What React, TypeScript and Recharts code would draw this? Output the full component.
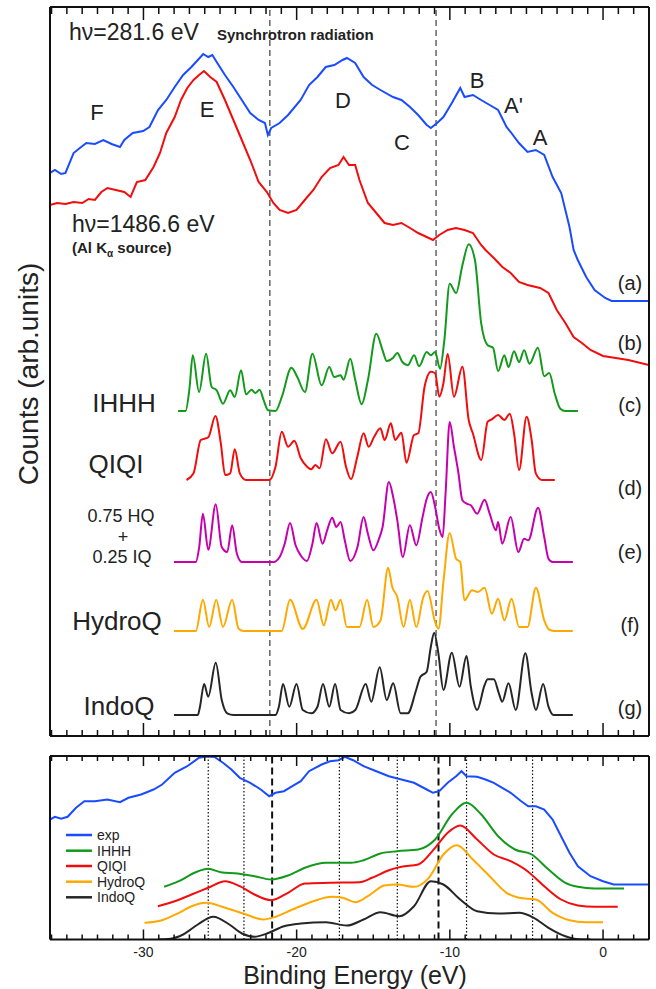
import { LineChart, Line, XAxis, YAxis, ReferenceLine } from 'recharts';

type Pt = [number, number];

// binding energy axis (eV)
const E_DOMAIN: [number, number] = [-36.1, 3.0];
const MINOR_TICKS = Array.from({ length: 40 }, (_, i) => -36 + i);
const MAJOR_TICKS = [-30, -20, -10, 0];

// (a) hv = 281.6 eV, synchrotron
const expSynchrotron: Pt[] = [
  [-36.1, 563], [-35.78, 566], [-35.37, 562], [-35.09, 563], [-34.56, 583], [-34.15, 588], [-33.73, 593],
  [-33.17, 592], [-32.62, 596], [-32.08, 592], [-31.53, 589], [-31.25, 596], [-30.7, 603], [-30.02, 605],
  [-29.61, 609], [-29.05, 626], [-28.51, 636], [-27.96, 649], [-27.41, 661], [-26.87, 669], [-26.45, 676],
  [-26.1, 682], [-25.77, 679], [-25.5, 681], [-25.22, 674], [-24.68, 661], [-24.13, 649], [-23.58, 636],
  [-23.03, 623], [-22.48, 616], [-22.07, 613], [-21.88, 601], [-21.66, 608], [-21.11, 613], [-20.56, 621],
  [-19.74, 636], [-19.19, 651], [-18.64, 659], [-18.1, 669], [-17.54, 671], [-17.0, 676], [-16.72, 678],
  [-16.18, 673], [-15.63, 659], [-15.07, 651], [-14.53, 646], [-13.71, 639], [-13.16, 636], [-12.6, 629],
  [-12.07, 621], [-11.51, 611], [-11.24, 608], [-10.83, 613], [-10.42, 619], [-9.87, 633], [-9.32, 648],
  [-9.04, 639], [-8.49, 641], [-7.96, 636], [-7.4, 631], [-6.85, 626], [-6.3, 609], [-6.03, 604],
  [-5.49, 593], [-4.93, 584], [-4.39, 586], [-3.84, 581], [-3.29, 559], [-2.73, 543], [-2.19, 509],
  [-1.92, 486], [-1.65, 476], [-1.1, 459], [-0.55, 446], [0.14, 438], [0.56, 435], [3.0, 435],
];

// (b) hv = 1486.6 eV, Al K-alpha
const expAlKa: Pt[] = [
  [-36.1, 531], [-35.64, 533], [-35.09, 532], [-34.56, 534], [-33.99, 533], [-33.58, 537], [-33.17, 536],
  [-32.75, 544], [-32.35, 548], [-31.81, 546], [-31.25, 544], [-30.84, 539], [-30.43, 554], [-29.88, 556],
  [-29.34, 569], [-28.92, 583], [-28.51, 603], [-27.96, 619], [-27.55, 636], [-27.14, 648], [-26.73, 656],
  [-26.37, 661], [-26.05, 665], [-25.64, 659], [-25.22, 654], [-24.68, 636], [-24.13, 616], [-23.58, 596],
  [-23.03, 576], [-22.48, 554], [-21.94, 544], [-21.52, 533], [-21.11, 526], [-20.56, 523], [-20.01, 526],
  [-19.47, 536], [-18.91, 546], [-18.37, 559], [-17.82, 568], [-17.27, 571], [-16.94, 579], [-16.58, 571],
  [-16.18, 571], [-15.9, 556], [-15.35, 533], [-14.8, 523], [-14.26, 513], [-13.71, 511], [-13.16, 513],
  [-12.6, 508], [-12.07, 503], [-11.51, 499], [-11.1, 496], [-10.69, 501], [-10.14, 506], [-9.6, 508],
  [-9.04, 506], [-8.49, 503], [-7.96, 491], [-7.67, 486], [-7.13, 478], [-6.57, 469], [-6.03, 463],
  [-5.49, 454], [-4.93, 451], [-4.11, 448], [-3.56, 443], [-3.02, 426], [-2.46, 413], [-1.92, 399],
  [-1.38, 393], [-0.82, 386], [0.0, 380], [0.83, 378], [1.65, 376], [3.0, 371],
];

// (c)-(g) calculated DOS, heights above each curve's own baseline
const dosIHHH: Pt[] = [
  [-27.74, 0], [-27.25, 0], [-27.0, 22], [-26.78, 55.7], [-26.37, 19], [-25.91, 57.3], [-25.55, 24],
  [-25.22, 20.7], [-24.81, 7.3], [-24.34, 20.7], [-24.04, 14], [-23.63, 40.7], [-23.3, 16.7], [-22.94, 21.3],
  [-22.7, 18], [-22.42, 21.3], [-22.15, 10.7], [-21.87, 0.7], [-21.38, 0], [-20.97, 14], [-20.34, 43.3],
  [-19.96, 34], [-19.46, 19], [-18.97, 57.3], [-18.37, 25.7], [-17.87, 44], [-17.55, 34], [-17.13, 35.7],
  [-16.94, 31.3], [-16.5, 52.3], [-16.17, 30.7], [-15.76, 6.7], [-15.35, 30.7], [-14.8, 77.3], [-14.39, 60.7],
  [-14.12, 50], [-13.7, 53.3], [-13.43, 58], [-13.1, 49], [-12.75, 45.7], [-12.33, 55.7], [-12.01, 44.7],
  [-11.51, 59], [-11.24, 55.7], [-10.96, 59], [-10.64, 42.3], [-10.36, 70.7], [-10.01, 127.3], [-9.59, 118],
  [-9.18, 145.7], [-8.77, 166.7], [-8.36, 150.7], [-7.95, 87.3], [-7.53, 65.7], [-7.18, 63.3], [-6.85, 40],
  [-6.44, 55.7], [-6.17, 44], [-5.81, 59.7], [-5.48, 49], [-5.15, 60.7], [-4.8, 47.3], [-4.25, 63.3],
  [-3.84, 34.7], [-3.51, 38], [-3.15, 17.3], [-2.79, 2.3], [-2.46, 0], [-1.64, 0],
];

const dosQIQI: Pt[] = [
  [-27.19, 0], [-26.73, 6.7], [-26.26, 40], [-25.77, 42.7], [-25.3, 64], [-24.95, 36.7], [-24.67, 5],
  [-24.34, 6.7], [-24.04, 30.7], [-23.71, 6.7], [-23.3, 0], [-21.79, 0], [-21.38, 13.3], [-20.97, 48.3],
  [-20.56, 33.3], [-20.15, 39.3], [-19.73, 21.7], [-19.32, 13.3], [-19.05, 10.7], [-18.78, 15], [-18.5, 11.7],
  [-18.09, 40.7], [-17.68, 26.7], [-17.13, 38.3], [-16.78, 13.3], [-16.45, 0.7], [-16.04, 23.3], [-15.63, 46.7],
  [-15.3, 33.3], [-14.94, 43.3], [-14.53, 51.7], [-14.26, 40], [-13.85, 56.7], [-13.57, 40], [-13.16, 47.3],
  [-12.83, 17.3], [-12.34, 45], [-12.06, 46.7], [-11.65, 93.3], [-11.24, 108.3], [-10.96, 106.7], [-10.69, 83.3],
  [-10.42, 96.7], [-10.14, 126], [-9.73, 83.3], [-9.18, 113.3], [-8.77, 60], [-8.5, 46.7], [-7.95, 20],
  [-7.53, 58.3], [-7.26, 60.7], [-6.85, 65], [-6.44, 60], [-6.08, 66.3], [-5.81, 46.7], [-5.48, 10],
  [-4.99, 63.3], [-4.66, 40], [-4.39, 6.7], [-3.98, 0], [-3.15, 0],
];

const dosMix: Pt[] = [
  [-28.01, 0], [-26.58, 0], [-26.36, 15], [-26.12, 48.3], [-25.77, 12.3], [-25.28, 57.7], [-24.89, 15],
  [-24.53, 10], [-24.21, 36.7], [-23.9, 8.3], [-23.57, 0], [-21.52, 0], [-21.11, 5], [-20.78, 18.3],
  [-20.43, 39], [-20.07, 16.7], [-19.74, 6.7], [-19.33, 1], [-18.97, 18.3], [-18.7, 39], [-18.31, 18.3],
  [-18.01, 31.7], [-17.68, 44.3], [-17.41, 35], [-17.13, 40], [-16.86, 21.7], [-16.5, 1], [-16.03, 15],
  [-15.63, 45], [-15.35, 28.3], [-14.99, 11.7], [-14.66, 21.7], [-14.39, 35], [-13.98, 80], [-13.7, 65],
  [-13.43, 41.7], [-13.07, 5], [-12.61, 36.7], [-12.19, 16.7], [-11.78, 45], [-11.51, 63.3], [-11.24, 70],
  [-10.96, 55], [-10.69, 33.3], [-10.47, 25], [-10.28, 68.3], [-10.01, 140], [-9.73, 115], [-9.45, 90],
  [-9.18, 61.7], [-8.9, 58.3], [-8.63, 56.7], [-8.22, 48.3], [-7.73, 62.3], [-7.4, 48.3], [-6.99, 31.7],
  [-6.85, 40], [-6.58, 18.3], [-6.03, 45], [-5.53, 10], [-5.15, 23.3], [-4.88, 21.7], [-4.24, 54.3],
  [-3.84, 25], [-3.56, 3.3], [-3.29, 0], [-1.97, 0],
];

const dosHydroQ: Pt[] = [
  [-28.01, 0], [-26.58, 0], [-26.12, 31.3], [-25.71, 4], [-25.25, 31.3], [-24.81, 4], [-24.21, 31.3],
  [-23.79, 2.3], [-23.44, 0], [-20.98, 0], [-20.43, 31.3], [-19.6, 2], [-18.7, 31.3], [-18.23, 5.7],
  [-17.76, 31.3], [-17.46, 20.7], [-17.13, 31.3], [-16.72, 4], [-15.9, 4], [-15.4, 31.3], [-14.99, 4],
  [-14.52, 10.7], [-14.03, 63.3], [-13.76, 44], [-13.43, 34], [-13.02, 4], [-12.61, 31.3], [-12.19, 4],
  [-11.73, 34], [-11.46, 40], [-10.96, 9], [-10.74, 2.3], [-10.41, 50.7], [-10.01, 98], [-9.59, 72.3],
  [-9.32, 69], [-9.05, 30.7], [-8.55, 40.7], [-8.17, 39], [-7.73, 43.3], [-7.26, 17.3], [-6.85, 32.3],
  [-6.44, 10.7], [-5.97, 32.3], [-5.48, 4], [-4.93, 4], [-4.38, 43.3], [-3.84, 10.7], [-3.51, 1.3],
  [-3.23, 0], [-1.97, 0],
];

const dosIndoQ: Pt[] = [
  [-28.01, 0], [-26.45, 0], [-26.31, 8.3], [-26.04, 31], [-25.77, 18.3], [-25.28, 52.3], [-24.89, 15],
  [-24.53, 1.7], [-24.12, 0], [-21.38, 0], [-21.16, 8.3], [-20.89, 31], [-20.48, 8.3], [-20.01, 31],
  [-19.6, 5], [-19.05, 1.7], [-18.64, 8.3], [-18.28, 31], [-17.87, 8.3], [-17.49, 31], [-17.13, 5],
  [-16.58, 1.7], [-16.17, 5], [-15.49, 31], [-15.13, 13.3], [-14.58, 47.7], [-14.12, 15], [-13.7, 31.7],
  [-13.21, 1.7], [-12.75, 1.7], [-12.2, 25], [-11.92, 38.3], [-11.51, 43.3], [-11.24, 68.3], [-11.02, 82.3],
  [-10.75, 61.7], [-10.42, 25], [-9.87, 62.3], [-9.37, 28.3], [-8.91, 59], [-8.63, 28.3], [-8.22, 5],
  [-7.73, 30], [-7.53, 35.7], [-7.13, 35.7], [-6.8, 21.7], [-6.58, 13.3], [-6.17, 31.7], [-5.7, 5],
  [-5.07, 61.7], [-4.66, 21.7], [-4.38, 5], [-3.91, 31], [-3.56, 8.3], [-3.23, 0], [-1.97, 0],
];

// vertical offsets of the stacked DOS curves (c)..(g)
const DOS_OFFSETS = [325, 256, 174, 105, 21];

// lower panel: experiment vs. broadened DOS
const broadExp: Pt[] = [
  [-36.1, 120], [-35.78, 122.7], [-35.37, 120.7], [-34.95, 122.7], [-34.4, 131.7], [-33.86, 138.3],
  [-33.17, 138.3], [-32.35, 140], [-31.53, 137.3], [-30.98, 141.7], [-30.15, 145], [-29.34, 150],
  [-28.78, 155], [-27.96, 166.7], [-27.14, 173.3], [-26.37, 181.7], [-25.9, 183], [-25.36, 182.5],
  [-24.81, 176.7], [-24.26, 170], [-23.71, 161.7], [-23.03, 156.7], [-22.34, 150], [-21.79, 143.3],
  [-21.38, 146.7], [-20.83, 148.3], [-20.28, 153.3], [-19.73, 158.3], [-19.19, 168.3], [-18.37, 175],
  [-17.82, 178.3], [-17.27, 179.3], [-16.86, 182.7], [-16.31, 179.3], [-15.63, 173.3], [-14.8, 168.3],
  [-13.98, 163.3], [-13.16, 160], [-12.34, 156.7], [-11.51, 150], [-11.1, 146.7], [-10.69, 148.3],
  [-10.14, 156.7], [-9.59, 163.3], [-9.24, 168.3], [-8.91, 163.3], [-8.22, 162.7], [-7.67, 160],
  [-7.13, 156.7], [-6.58, 151.7], [-6.03, 146.7], [-5.34, 138.3], [-4.88, 133.3], [-4.38, 133.3],
  [-3.84, 130], [-3.29, 120], [-2.74, 103.3], [-2.19, 86.7], [-1.64, 73.3], [-0.82, 63.3], [0.0, 58.3],
  [0.69, 55], [3.0, 55],
];

const broadIHHH: Pt[] = [
  [-28.65, 52.7], [-27.69, 58.3], [-26.59, 67.3], [-25.77, 70.7], [-24.95, 67.3], [-23.85, 66], [-22.75, 63.3],
  [-21.66, 60], [-20.56, 64], [-19.46, 71.7], [-18.09, 76.7], [-16.45, 76.7], [-15.63, 79.3], [-14.53, 86],
  [-13.43, 88.3], [-12.06, 90], [-10.96, 100], [-9.87, 125], [-8.91, 136.7], [-7.95, 125], [-6.85, 103.3],
  [-5.75, 90], [-4.66, 85], [-3.56, 70], [-2.46, 56.7], [-1.64, 52.7], [-0.55, 51], [1.37, 51],
];

const broadQIQI: Pt[] = [
  [-29.06, 33.3], [-27.96, 38.3], [-26.86, 45], [-25.77, 51.7], [-24.67, 58.3], [-23.71, 53.3], [-22.75, 45],
  [-21.66, 39.3], [-20.56, 46.7], [-19.46, 56], [-17.82, 56.7], [-15.9, 57.3], [-15.08, 61.7], [-13.98, 69.3],
  [-13.16, 72.7], [-12.06, 75], [-10.96, 91.7], [-10.14, 106.7], [-9.32, 114], [-8.22, 100], [-7.13, 85],
  [-6.03, 78.3], [-4.93, 68.3], [-3.84, 53.3], [-2.74, 40], [-1.64, 34], [-0.55, 32.7], [0.96, 32.7],
];

const broadHydroQ: Pt[] = [
  [-29.93, 16.7], [-28.78, 19.3], [-27.69, 26.7], [-26.86, 33.3], [-25.9, 36.7], [-24.67, 31.7], [-23.3, 25],
  [-22.2, 20], [-21.38, 22.7], [-20.28, 30], [-18.91, 38.3], [-17.68, 42.7], [-16.99, 41.7], [-16.17, 37.3],
  [-15.35, 43.3], [-14.26, 54], [-13.43, 55], [-12.34, 52.7], [-11.37, 61.7], [-10.42, 85], [-9.54, 94.3],
  [-8.5, 80], [-7.4, 63.3], [-6.3, 46.7], [-5.48, 41.7], [-4.39, 40], [-3.29, 26.7], [-2.19, 19.3],
  [-1.1, 17.3], [0.0, 17.3],
];

const broadIndoQ: Pt[] = [
  [-29.06, 0], [-28.24, 0.7], [-27.41, 5], [-26.45, 15], [-25.44, 22.7], [-24.4, 15], [-23.57, 6],
  [-22.75, 2.7], [-21.93, 6], [-20.83, 13.3], [-19.73, 16], [-18.09, 17.3], [-16.72, 14], [-15.63, 20],
  [-14.53, 27.3], [-13.29, 23.3], [-12.34, 33.3], [-11.24, 58.3], [-10.42, 55], [-9.32, 40], [-8.22, 28.3],
  [-6.85, 26], [-5.48, 26.7], [-4.52, 21.7], [-3.56, 11.7], [-2.46, 3.3], [-1.37, 0], [-0.82, 0],
];

const TOP_DASHED = [-21.75, -10.9];
const BOTTOM_DASHED = [-21.6, -10.74];
const BOTTOM_DOTTED = [-25.77, -23.44, -17.21, -13.43, -8.91, -4.6];

const SERIES_NAMES = ['exp', 'IHHH', 'QIQI', 'HydroQ', 'IndoQ'];
const BLUE = '#1a4cff';
const GREEN = '#139a1c';
const RED = '#f20c0c';
const MAGENTA = '#c600ac';
const ORANGE = '#ffa800';
const BLACK = '#262626';
const SERIES_COLORS = [BLUE, GREEN, RED, ORANGE, BLACK];

const FONT = '"Liberation Sans", Arial, Helvetica, sans-serif';
const INK = '#222';

const toRows = (pts: Pt[], offset = 0) => pts.map(([e, v]) => ({ e, v: v + offset }));

// inward ticks; dir = +1 points down (top axis), -1 points up (bottom axis)
const makeTick = (dir: number, minor: number, major: number, labels: boolean) =>
  (props: any) => {
    const { x, y, payload } = props;
    const isMajor = MAJOR_TICKS.includes(payload.value);
    return (
      <g>
        <line x1={x} y1={y} x2={x} y2={y + dir * (isMajor ? major : minor)} stroke="#111" strokeWidth={1.5} />
        {labels && isMajor && (
          <text x={x} y={y + 17} textAnchor="middle" fontSize={14} fontFamily={FONT} fill={INK}>
            {payload.value}
          </text>
        )}
      </g>
    );
  };

const frame = { stroke: '#111', strokeWidth: 2 };

export default function App() {
  const topLines = [
    { pts: expSynchrotron, off: 0, color: BLUE, type: 'linear' },
    { pts: expAlKa, off: 0, color: RED, type: 'linear' },
    { pts: dosIHHH, off: DOS_OFFSETS[0], color: GREEN, type: 'monotone' },
    { pts: dosQIQI, off: DOS_OFFSETS[1], color: RED, type: 'monotone' },
    { pts: dosMix, off: DOS_OFFSETS[2], color: MAGENTA, type: 'monotone' },
    { pts: dosHydroQ, off: DOS_OFFSETS[3], color: ORANGE, type: 'monotone' },
    { pts: dosIndoQ, off: DOS_OFFSETS[4], color: BLACK, type: 'monotone' },
  ];
  const bottomLines = [
    { pts: broadExp, color: BLUE, type: 'linear' },
    { pts: broadIHHH, color: GREEN, type: 'monotone' },
    { pts: broadQIQI, color: RED, type: 'monotone' },
    { pts: broadHydroQ, color: ORANGE, type: 'monotone' },
    { pts: broadIndoQ, color: BLACK, type: 'monotone' },
  ];

  const peakLabels: [string, number, number][] = [
    ['F', 97, 120], ['E', 207, 117], ['D', 343, 108], ['C', 402, 150], ['B', 477, 88], ['A', 540, 145],
  ];
  const curveTags: [string, number][] = [
    ['(a)', 290], ['(b)', 350], ['(c)', 412], ['(d)', 495], ['(e)', 559], ['(f)', 632], ['(g)', 715],
  ];
  const legendRows = [835, 850.7, 866, 881.7, 897.3];

  return (
    <div style={{ position: 'absolute', left: 0, top: 0, width: 656, height: 989, background: '#fff' }}>
      <div style={{ position: 'absolute', left: 0, top: 0 }}>
        {/* stacked spectra: plot area x 50..649, y 7..736 */}
        <LineChart width={656} height={745} margin={{ top: 6, right: 6, bottom: 8, left: 49 }}>
          <XAxis xAxisId="b" type="number" dataKey="e" domain={E_DOMAIN} allowDataOverflow ticks={MINOR_TICKS}
            interval={0} height={1} tickSize={0} tickMargin={0} tickLine={false} axisLine={frame}
            tick={makeTick(-1, 6, 13, false)} />
          <XAxis xAxisId="t" orientation="top" type="number" dataKey="e" domain={E_DOMAIN} allowDataOverflow
            ticks={MINOR_TICKS} interval={0} height={1} tickSize={0} tickMargin={0} tickLine={false} axisLine={frame}
            tick={makeTick(1, 7, 13, false)} />
          <YAxis yAxisId="l" type="number" domain={[0, 729]} allowDataOverflow width={1} tick={false} tickLine={false} axisLine={frame} />
          <YAxis yAxisId="r" orientation="right" type="number" domain={[0, 729]} width={1} tick={false} tickLine={false} axisLine={frame} />
          {TOP_DASHED.map((e) => (
            <ReferenceLine key={e} x={e} xAxisId="b" yAxisId="l" stroke="#4a4a4a" strokeWidth={1.3} strokeDasharray="6 4" />
          ))}
          {topLines.map((s, i) => (
            <Line key={i} data={toRows(s.pts, s.off)} dataKey="v" xAxisId="b" yAxisId="l" type={s.type as any}
              stroke={s.color} strokeWidth={2} dot={false} activeDot={false} isAnimationActive={false} />
          ))}
        </LineChart>
      </div>

      <div style={{ position: 'absolute', left: 0, top: 745 }}>
        {/* broadened comparison: plot area y 756..939.5 on the page */}
        <LineChart width={656} height={244} margin={{ top: 10, right: 6, bottom: 48.5, left: 49 }}>
          <XAxis xAxisId="b" type="number" dataKey="e" domain={E_DOMAIN} allowDataOverflow ticks={MINOR_TICKS}
            interval={0} height={1} tickSize={0} tickMargin={0} tickLine={false} axisLine={frame}
            tick={makeTick(-1, 5, 10, true)} />
          <XAxis xAxisId="t" orientation="top" type="number" dataKey="e" domain={E_DOMAIN} allowDataOverflow
            ticks={MINOR_TICKS} interval={0} height={1} tickSize={0} tickMargin={0} tickLine={false} axisLine={frame}
            tick={makeTick(1, 5, 10, false)} />
          <YAxis yAxisId="l" type="number" domain={[0, 183.5]} allowDataOverflow width={1} tick={false} tickLine={false} axisLine={frame} />
          <YAxis yAxisId="r" orientation="right" type="number" domain={[0, 183.5]} width={1} tick={false} tickLine={false} axisLine={frame} />
          {BOTTOM_DOTTED.map((e) => (
            <ReferenceLine key={e} x={e} xAxisId="b" yAxisId="l" stroke="#111" strokeWidth={1.2} strokeDasharray="1.5 2" />
          ))}
          {BOTTOM_DASHED.map((e) => (
            <ReferenceLine key={e} x={e} xAxisId="b" yAxisId="l" stroke="#111" strokeWidth={2} strokeDasharray="7 4" />
          ))}
          {bottomLines.map((s, i) => (
            <Line key={i} data={toRows(s.pts)} dataKey="v" xAxisId="b" yAxisId="l" type={s.type as any}
              stroke={s.color} strokeWidth={2} dot={false} activeDot={false} isAnimationActive={false} />
          ))}
        </LineChart>
      </div>

      <svg width={656} height={989} style={{ position: 'absolute', left: 0, top: 0, pointerEvents: 'none' }}
        fontFamily={FONT} fill={INK}>
        <text x={69} y={40} fontSize={23}>hν=281.6 eV</text>
        <text x={217} y={40} fontSize={15} fontWeight="bold">Synchrotron radiation</text>
        <text x={72} y={232} fontSize={23}>hν=1486.6 eV</text>
        <text x={72} y={253} fontSize={15} fontWeight="bold">
          (Al K<tspan fontSize={10} dy={4}>α</tspan><tspan dy={-4}> source)</tspan>
        </text>
        {peakLabels.map(([t, x, y]) => (
          <text key={t} x={x} y={y} fontSize={22} textAnchor="middle">{t}</text>
        ))}
        <text x={504} y={113} fontSize={22}>A'</text>

        <text transform="translate(38 374) rotate(-90)" fontSize={28} textAnchor="middle">Counts (arb.units)</text>

        <text x={124} y={412} fontSize={26} textAnchor="middle">IHHH</text>
        <text x={116} y={473} fontSize={26} textAnchor="middle">QIQI</text>
        <text x={121} y={522} fontSize={18} textAnchor="middle">0.75 HQ</text>
        <text x={123} y={543} fontSize={18} textAnchor="middle">+</text>
        <text x={122} y={563} fontSize={18} textAnchor="middle">0.25 IQ</text>
        <text x={117} y={630} fontSize={26} textAnchor="middle">HydroQ</text>
        <text x={119} y={715} fontSize={26} textAnchor="middle">IndoQ</text>

        {curveTags.map(([t, y]) => (
          <text key={t} x={630} y={y} fontSize={20} textAnchor="middle">{t}</text>
        ))}

        {SERIES_NAMES.map((name, i) => (
          <g key={name}>
            <line x1={66} x2={92} y1={legendRows[i]} y2={legendRows[i]} stroke={SERIES_COLORS[i]} strokeWidth={2.5} />
            <text x={97} y={legendRows[i]} fontSize={14} dominantBaseline="central">{name}</text>
          </g>
        ))}

        <text x={355} y={984} fontSize={25} textAnchor="middle">Binding Energy (eV)</text>
      </svg>
    </div>
  );
}
